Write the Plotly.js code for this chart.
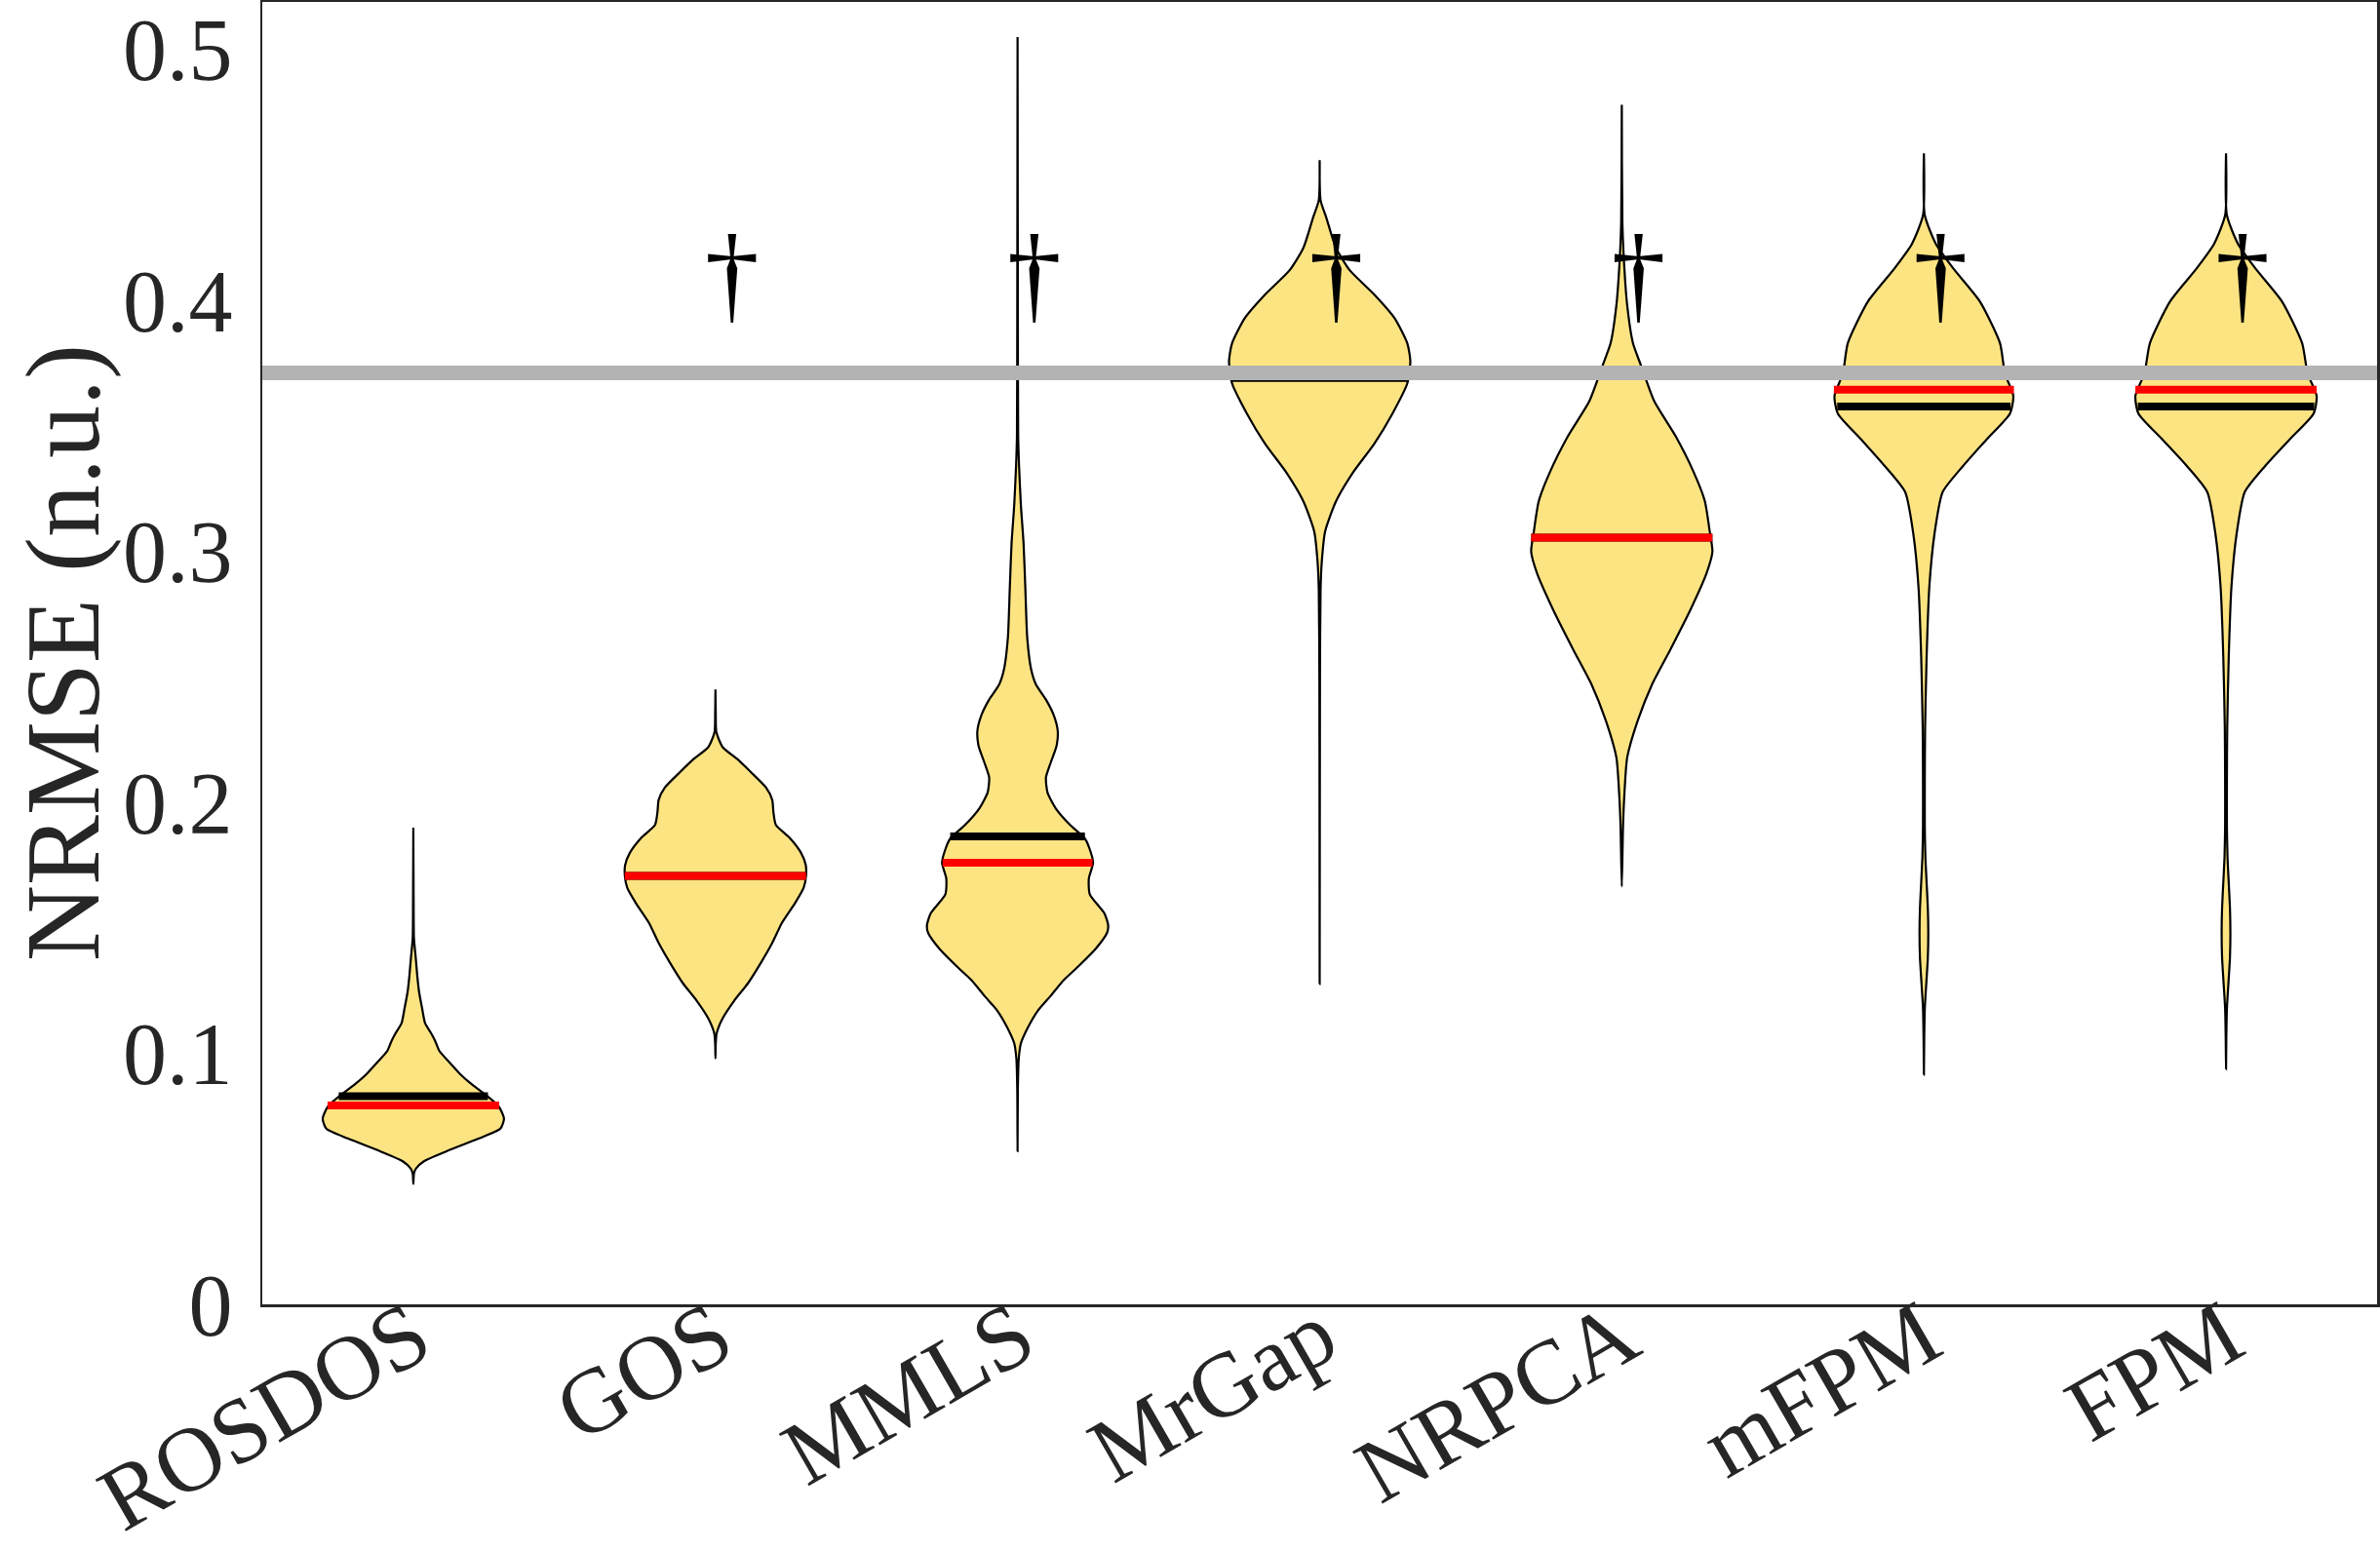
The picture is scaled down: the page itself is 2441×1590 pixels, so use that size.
<!DOCTYPE html>
<html>
<head>
<meta charset="utf-8">
<script src="https://cdn.plot.ly/plotly-3.0.1.min.js"></script>
<style>html,body{margin:0;padding:0;background:#fff}</style>
</head>
<body>
<div id="grafico" style="width:2441px;height:1590px"></div>
<script>
// ===== Dados =====
const metodos = ["ROSDOS", "GOS", "MMLS", "MrGap", "NRPCA", "mFPM", "FPM"];

// perfil de cada violino: valores de NRMSE (y) e meia-largura (w, em unidades de categoria)
const rosdosY = [0.048, 0.052, 0.054, 0.057, 0.061, 0.066, 0.070, 0.074, 0.079, 0.084, 0.088, 0.092, 0.097, 0.101, 0.105, 0.108, 0.112, 0.118, 0.1245, 0.131, 0.138, 0.146, 0.160, 0.190];
const rosdosW = [0, 0.002, 0.008, 0.035, 0.110, 0.215, 0.288, 0.300, 0.282, 0.234, 0.190, 0.153, 0.115, 0.086, 0.072, 0.059, 0.039, 0.029, 0.019, 0.013, 0.008, 0.002, 0.001, 0];

const gosY = [0.098, 0.104, 0.108, 0.114, 0.121, 0.128, 0.136, 0.144, 0.152, 0.160, 0.166, 0.171, 0.175, 0.180, 0.186, 0.191, 0.196, 0.201, 0.206, 0.212, 0.217, 0.222, 0.228, 0.235, 0.245];
const gosW = [0, 0.001, 0.004, 0.024, 0.062, 0.108, 0.150, 0.188, 0.220, 0.264, 0.292, 0.300, 0.299, 0.283, 0.245, 0.200, 0.192, 0.188, 0.167, 0.118, 0.075, 0.024, 0.003, 0.001, 0];

const mmlsY = [0.061, 0.086, 0.098, 0.104, 0.1105, 0.117, 0.123, 0.129, 0.135, 0.1416, 0.148, 0.151, 0.1557, 0.1634, 0.1697, 0.176, 0.182, 0.1856, 0.191, 0.1977, 0.204, 0.210, 0.216, 0.2225, 0.2285, 0.2347, 0.241, 0.247, 0.253, 0.2657, 0.2844, 0.303, 0.3185, 0.334, 0.346, 0.396, 0.505];
const mmlsW = [0, 0.001, 0.004, 0.011, 0.035, 0.067, 0.110, 0.151, 0.204, 0.258, 0.296, 0.300, 0.288, 0.239, 0.236, 0.250, 0.237, 0.223, 0.174, 0.126, 0.099, 0.094, 0.110, 0.129, 0.133, 0.120, 0.094, 0.061, 0.045, 0.032, 0.026, 0.020, 0.011, 0.005, 0.002, 0.001, 0];

const mrgapY = [0.1277, 0.250, 0.285, 0.296, 0.308, 0.320, 0.3316, 0.343, 0.355, 0.367, 0.376, 0.383, 0.393, 0.402, 0.412, 0.421, 0.433, 0.440, 0.456];
const mrgapW = [0, 0.001, 0.003, 0.007, 0.018, 0.054, 0.111, 0.181, 0.241, 0.290, 0.300, 0.290, 0.248, 0.184, 0.100, 0.054, 0.022, 0.003, 0];

const nrpcaY = [0.1665, 0.190, 0.202, 0.218, 0.233, 0.247, 0.261, 0.277, 0.2915, 0.300, 0.308, 0.320, 0.3316, 0.346, 0.360, 0.374, 0.383, 0.398, 0.414, 0.431, 0.478];
const nrpcaW = [0, 0.004, 0.008, 0.018, 0.054, 0.100, 0.161, 0.228, 0.281, 0.300, 0.291, 0.275, 0.238, 0.178, 0.107, 0.064, 0.037, 0.018, 0.008, 0.002, 0];

const mfpmY = [0.0915, 0.105, 0.118, 0.128, 0.138, 0.148, 0.158, 0.168, 0.178, 0.190, 0.210, 0.230, 0.258, 0.286, 0.307, 0.3237, 0.334, 0.3446, 0.355, 0.362, 0.371, 0.383, 0.3997, 0.413, 0.4225, 0.434, 0.4587];
const mfpmW = [0, 0.001, 0.003, 0.008, 0.013, 0.0145, 0.013, 0.009, 0.005, 0.003, 0.003, 0.004, 0.009, 0.018, 0.035, 0.062, 0.129, 0.207, 0.285, 0.296, 0.268, 0.252, 0.185, 0.096, 0.040, 0.003, 0];

const fpmY = [0.0938, 0.106, 0.118, 0.128, 0.138, 0.148, 0.158, 0.168, 0.178, 0.190, 0.210, 0.230, 0.258, 0.286, 0.307, 0.3237, 0.334, 0.3446, 0.355, 0.362, 0.371, 0.383, 0.3997, 0.413, 0.4225, 0.434, 0.4587];
const fpmW = [0, 0.001, 0.003, 0.008, 0.013, 0.0145, 0.013, 0.009, 0.005, 0.003, 0.003, 0.004, 0.009, 0.018, 0.035, 0.062, 0.129, 0.210, 0.290, 0.300, 0.270, 0.252, 0.185, 0.096, 0.040, 0.003, 0];

const perfisY = [rosdosY, gosY, mmlsY, mrgapY, nrpcaY, mfpmY, fpmY];
const perfisW = [rosdosW, gosW, mmlsW, mrgapW, nrpcaW, mfpmW, fpmW];

// medianas (vermelho) e médias (preto) com meia-largura da barra
const medianas = [0.0792, 0.1707, 0.176, 0.3712, 0.3055, 0.3645, 0.3645];
const larguraMediana = [0.284, 0.300, 0.248, 0.300, 0.300, 0.298, 0.300];
const medias = [0.0829, 0.1707, 0.1865, 0.3691, 0.3055, 0.3578, 0.3578];
const larguraMedia = [0.247, 0.300, 0.223, 0.290, 0.300, 0.287, 0.292];

// métodos marcados com adaga
const temAdaga = [false, true, true, true, true, true, true];

// linha de referência cinza
const referencia = 0.3712;

const valoresY = [0, 0.1, 0.2, 0.3, 0.4, 0.5];
const rotulosY = ["0", "0.1", "0.2", "0.3", "0.4", "0.5"];
const tituloY = "NRMSE (n.u.)";

// ===== Estilo =====
const AMARELO = "rgb(253,228,130)";
const FONTE = "Liberation Serif, Times New Roman, serif";
const CINZA_TEXTO = "#262626";

// ===== Traços =====
function montarViolino(i, ys, ws) {
  const x = [], y = [];
  for (let k = 0; k < ys.length; k++) { x.push(i + ws[k]); y.push(ys[k]); }
  for (let k = ys.length - 1; k >= 0; k--) { x.push(i - ws[k]); y.push(ys[k]); }
  return {
    x, y, type: "scatter", mode: "lines", fill: "toself", fillcolor: AMARELO,
    line: { color: "#000", width: 2.2, shape: "spline", smoothing: 0.6 },
    hoverinfo: "skip", showlegend: false
  };
}

function barra(i, v, w, cor) {
  return {
    x: [i - w, i + w], y: [v, v], type: "scatter", mode: "lines",
    line: { color: cor, width: 8 }, hoverinfo: "skip", showlegend: false
  };
}

const data = [];
metodos.forEach((m, i) => data.push(montarViolino(i, perfisY[i], perfisW[i])));
metodos.forEach((m, i) => data.push(barra(i, medias[i], larguraMedia[i], "#000")));
metodos.forEach((m, i) => data.push(barra(i, medianas[i], larguraMediana[i], "#ff0000")));

// linha de referência por cima de tudo
data.push({
  x: [-0.5, metodos.length - 0.5], y: [referencia, referencia], type: "scatter", mode: "lines",
  line: { color: "#b3b3b3", width: 15 }, hoverinfo: "skip", showlegend: false
});

// adagas
const adX = [], adY = [], adT = [];
temAdaga.forEach((t, i) => {
  if (t) { adX.push(i + 0.055); adY.push(0.407); adT.push("†"); }
});
data.push({
  x: adX, y: adY, text: adT, type: "scatter", mode: "text", textposition: "middle center",
  textfont: { family: FONTE, size: 112, color: "#000" }, hoverinfo: "skip", showlegend: false
});

const layout = {
  width: 2441, height: 1590,
  paper_bgcolor: "#fff", plot_bgcolor: "#fff",
  margin: { l: 269, r: 3, t: 2, b: 252 },
  font: { family: FONTE, color: CINZA_TEXTO },
  xaxis: {
    range: [-0.5, metodos.length - 0.5],
    tickvals: metodos.map((m, i) => i), ticktext: metodos,
    tickangle: -30, tickfont: { size: 94, family: FONTE, color: CINZA_TEXTO },
    ticks: "", ticklabelstandoff: -60,
    showgrid: false, zeroline: false,
    showline: true, mirror: true, linecolor: CINZA_TEXTO, linewidth: 2.5
  },
  yaxis: {
    range: [0, 0.519],
    tickvals: valoresY, ticktext: rotulosY,
    tickfont: { size: 90, family: FONTE, color: CINZA_TEXTO },
    ticks: "", ticklabelstandoff: 10,
    showgrid: false, zeroline: false,
    showline: true, mirror: true, linecolor: CINZA_TEXTO, linewidth: 2.5
  },
  // título do eixo y como anotação, para ficar colado à borda esquerda
  annotations: [{
    text: tituloY, xref: "paper", yref: "paper", x: -0.094, y: 0.5,
    xanchor: "center", yanchor: "middle", textangle: -90, showarrow: false,
    font: { size: 108, family: FONTE, color: CINZA_TEXTO }
  }],
  showlegend: false
};

Plotly.newPlot("grafico", data, layout, { displayModeBar: false, staticPlot: true });
</script>
</body>
</html>
